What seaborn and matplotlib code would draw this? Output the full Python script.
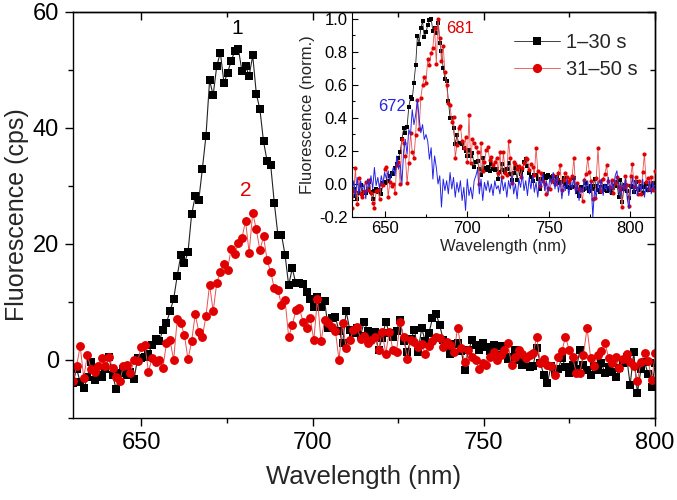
import numpy as np
import matplotlib
matplotlib.use('Agg')
import matplotlib.pyplot as plt
from matplotlib.ticker import MultipleLocator
import seaborn as sns

# wavelength grid of the spectrometer (nm), 1.05 nm steps starting at 630
wl_start = 630.0
wl_step = 1.05

# 1-30 s (cps)
black = [-4.0, -1.5, -3.8, -4.9, -3.0, -0.3, -3.4, -2.5, -2.9, -1.5,
         0.6, -2.5, -5.0, -2.2, -1.5, -2.6, -2.0, -3.2, 0.3, 0.3,
         0.5, 1.1, 2.6, 3.7, 3.2, 5.2, 6.4, 8.4, 10.5, 14.5,
         18.1, 16.7, 18.6, 25.1, 28.2, 27.6, 33.0, 38.7, 48.2, 45.7,
         50.7, 53.0, 47.8, 49.5, 51.6, 53.2, 53.7, 49.8, 50.7, 49.0,
         52.5, 45.9, 43.2, 37.7, 34.3, 33.6, 27.1, 21.6, 21.6, 18.1,
         12.9, 15.8, 13.2, 13.2, 13.1, 11.8, 10.6, 9.2, 10.9, 9.2,
         10.1, 5.5, 7.2, 7.4, 5.0, 2.9, 8.4, 5.2, 4.6, 5.5,
         4.2, 6.6, 5.0, 4.6, 4.8, 1.7, 3.8, 6.6, 4.6, 4.0,
         5.0, 6.9, 3.2, 1.4, 3.6, 5.2, 1.4, 5.5, 3.2, 4.6,
         7.2, 8.0, 6.0, 3.5, 2.4, 1.1, 2.8, 3.0, 1.6, -1.7,
         1.7, 3.4, 2.6, 1.8, 2.9, 2.2, 1.6, 2.6, 0.8, 2.4,
         1.2, 0.2, 0.6, 1.8, 0.0, -0.9, 0.6, -1.2, -1.0, 2.0,
         -0.5, -2.6, -3.9, -1.0, -2.0, -1.5, 0.4, -1.2, -2.3, -0.8,
         -1.6, 1.7, -0.8, -1.8, -2.6, -1.0, -1.8, -0.6, -2.2, -1.2,
         -2.0, -2.9, -1.4, -0.6, 0.6, -4.3, 1.4, -5.7, -1.6, -0.4,
         -2.4, -4.6, -0.6, -1.0, -2.5, 0.5, -1.5, -2.0, -0.5, -3.0,
         -1.0, 0.0, -2.0, -0.8, -1.8, 0.2, -1.2]

# 31-50 s (cps)
red = [-3.7, -1.1, 2.4, -3.1, 0.9, -1.5, -2.0, -1.1, 0.3, -1.0,
       0.6, -1.4, -2.9, -3.7, -1.1, -0.9, -2.3, 0.0, -0.2, 2.3,
       2.6, -2.0, 0.3, -0.3, 0.0, -1.4, 2.9, 3.4, 0.0, 7.0,
       6.3, 4.3, 0.1, 3.2, 7.9, 4.9, 4.0, 7.6, 13.0, 8.4,
       13.3, 15.2, 16.5, 15.6, 19.2, 18.3, 20.1, 21.0, 24.0, 18.5,
       25.4, 22.5, 18.9, 21.3, 17.2, 15.2, 12.4, 12.1, 9.5, 10.3,
       4.0, 6.0, 8.6, 8.9, 6.6, 5.5, 7.2, 3.4, 10.6, 3.2,
       6.9, 6.3, 5.7, 5.0, 0.0, 6.3, 2.0, 3.4, 5.2, 5.7,
       3.7, 4.2, 2.9, 3.4, 4.0, 1.7, 4.9, 1.1, 4.9, 1.7,
       1.4, 6.6, 4.0, 0.1, 3.4, 3.1, 2.3, 2.8, 1.1, 2.4,
       3.2, 4.0, 3.8, 2.2, 3.1, 2.6, 1.4, 5.6, 2.0, -0.3,
       1.7, 0.5, 0.0, -1.6, -0.6, -0.8, 0.5, 1.4, 0.0, 0.8,
       1.7, 2.9, -0.9, 0.6, 1.7, 1.0, 0.3, 0.8, 1.2, 4.0,
       -0.6, 0.2, -0.8, -1.0, -2.6, 0.6, 1.5, 4.0, 1.8, 0.5,
       -2.3, -2.2, 0.9, 5.5, 0.4, -1.1, 0.8, 1.5, 2.9, 0.4,
       -0.5, 0.6, -1.4, 0.2, 1.0, -0.4, -1.0, -3.6, -0.4, 1.2,
       -0.2, -3.4, 1.2, 3.0, -0.5, 1.0, -1.5, 0.5, -1.6, 1.8,
       4.6, 0.3, 0.9, -0.8, 1.0, -1.0, 2.0]

# reference spectrum in the inset (normalized)
blue = [-0.05, 0.02, -0.08, 0.04, -0.06, 0.02, -0.04, 0.0, -0.09, 0.03,
        -0.02, 0.05, -0.03, 0.10, -0.01, 0.04, -0.03, 0.05, 0.0, 0.07,
        0.03, 0.08, 0.02, 0.06, 0.10, 0.05, 0.17, 0.09, 0.12, 0.0,
        0.20, 0.27, 0.18, 0.33, 0.30, 0.45, 0.36, 0.42, 0.51, 0.40,
        0.31, 0.36, 0.27, 0.30, 0.26, 0.15, 0.22, 0.03, 0.17, 0.10,
        0.0, 0.05, -0.14, 0.03, -0.04, 0.02, -0.06, 0.07, -0.03, 0.04,
        -0.08, 0.01, -0.05, 0.02, -0.10, -0.02, -0.16, 0.03, -0.07, -0.02,
        -0.09, 0.02, 0.05, 0.09, -0.06, 0.03, -0.10, 0.01, -0.04, 0.02,
        -0.05, 0.0, -0.07, 0.02, -0.03, -0.01, -0.06, 0.04, -0.04, 0.01,
        -0.08, 0.02, -0.03, 0.05, -0.06, 0.0, -0.09, 0.03, -0.02, 0.06,
        -0.04, 0.02, -0.07, 0.04, -0.03, 0.05, -0.05, 0.01, -0.08, 0.03,
        -0.02, 0.06, -0.04, 0.02, -0.06, 0.04, 0.0, 0.07, -0.03, 0.05,
        -0.05, 0.02, -0.09, 0.0, -0.04, 0.03, -0.07, 0.01, -0.03, 0.04,
        -0.06, 0.0, -0.10, -0.02, -0.05, 0.03, -0.04, 0.02, -0.06, 0.01,
        -0.20, -0.03, -0.08, 0.02, -0.05, 0.03, -0.07, 0.0, -0.04, 0.04,
        -0.06, 0.02, -0.03, 0.05, 0.08, -0.02, -0.08, 0.01, -0.05, 0.03,
        -0.09, -0.15, -0.03, 0.04, -0.06, 0.02, -0.07, 0.0, -0.04, 0.03,
        -0.08, -0.01, -0.05, 0.02, -0.06, 0.01, -0.04]

labels = ['1\u201330 s', '31\u201350 s']

wl = np.round(wl_start + wl_step * np.arange(len(black)), 2)
black = np.array(black)
red = np.array(red)
black_norm = black / black.max()
red_norm = red / red.max()

sns.set_style('ticks')
plt.rcParams['font.family'] = ['Liberation Sans', 'DejaVu Sans']
plt.rcParams['axes.linewidth'] = 1.0
plt.rcParams['axes.edgecolor'] = 'black'
plt.rcParams['xtick.color'] = 'black'
plt.rcParams['ytick.color'] = 'black'

fig = plt.figure(figsize=(6.77, 5.0), dpi=100)
ax = fig.add_axes([0.1078, 0.164, 0.8597, 0.812])

RED = '#e00000'
RED_LINE = '#e85050'

sns.lineplot(x=wl, y=black, ax=ax, estimator=None, sort=False, color='#222222',
             linewidth=0.8, marker='s', markersize=5.4, markerfacecolor='black',
             markeredgecolor='black', markeredgewidth=0)
sns.lineplot(x=wl, y=red, ax=ax, estimator=None, sort=False, color=RED_LINE,
             linewidth=0.7, marker='o', markersize=6.4, markerfacecolor=RED,
             markeredgecolor=RED, markeredgewidth=0)

ax.set_xlim(630, 800)
ax.set_ylim(-10, 60)
ax.xaxis.set_major_locator(MultipleLocator(50))
ax.xaxis.set_minor_locator(MultipleLocator(25))
ax.yaxis.set_major_locator(MultipleLocator(20))
ax.yaxis.set_minor_locator(MultipleLocator(10))
ax.tick_params(which='major', direction='out', length=6, width=1, labelsize=17, pad=4)
ax.tick_params(which='minor', direction='out', length=3.5, width=1)
ax.set_xlabel('Wavelength (nm)', fontsize=18.5, labelpad=8)
ax.set_ylabel('Fluorescence (cps)', fontsize=18, labelpad=3)
for s in ax.spines.values():
    s.set_visible(True)
    s.set_color('black')
    s.set_linewidth(1.0)

# top / right ticks point inwards
top = ax.secondary_xaxis('top')
top.xaxis.set_major_locator(MultipleLocator(50))
top.xaxis.set_minor_locator(MultipleLocator(25))
top.tick_params(which='major', direction='in', length=6, width=1, labeltop=False)
top.tick_params(which='minor', direction='in', length=3.5, width=1)
right = ax.secondary_yaxis('right')
right.yaxis.set_major_locator(MultipleLocator(20))
right.yaxis.set_minor_locator(MultipleLocator(10))
right.tick_params(which='major', direction='in', length=6, width=1, labelright=False)
right.tick_params(which='minor', direction='in', length=3.5, width=1)

ax.text(677.9, 57.2, '1', fontsize=15, color='black', ha='center', va='center')
ax.text(680.6, 29.3, '2', fontsize=15, color=RED, ha='center', va='center')

# inset
axin = fig.add_axes([0.520, 0.566, 0.4476, 0.408])
axin.set_facecolor('none')
sns.lineplot(x=wl, y=black_norm, ax=axin, estimator=None, sort=False, color='#222222',
             linewidth=0.6, marker='s', markersize=2.6, markerfacecolor='black',
             markeredgecolor='black', markeredgewidth=0, label=labels[0])
sns.lineplot(x=wl, y=red_norm, ax=axin, estimator=None, sort=False, color=RED_LINE,
             linewidth=0.6, marker='o', markersize=3.0, markerfacecolor=RED,
             markeredgecolor=RED, markeredgewidth=0, label=labels[1])
sns.lineplot(x=wl, y=blue, ax=axin, estimator=None, sort=False, color='#2424e6',
             linewidth=0.7)

axin.set_xlim(630, 815)
axin.set_ylim(-0.2, 1.036)
axin.xaxis.set_major_locator(MultipleLocator(50))
axin.xaxis.set_minor_locator(MultipleLocator(25))
axin.yaxis.set_major_locator(MultipleLocator(0.2))
axin.yaxis.set_minor_locator(MultipleLocator(0.1))
axin.yaxis.set_major_formatter(lambda v, p: f'{v:.1f}')
axin.tick_params(which='major', direction='in', length=4, width=0.8, labelsize=12, pad=3)
axin.tick_params(which='minor', direction='in', length=2.5, width=0.8)
axin.spines['top'].set_visible(False)
axin.spines['right'].set_visible(False)
axin.spines['left'].set_linewidth(0.8)
axin.spines['bottom'].set_linewidth(0.8)
axin.set_xlabel('Wavelength (nm)', fontsize=12, labelpad=2)
axin.set_ylabel('Fluorescence (norm.)', fontsize=12, labelpad=3)

axin.text(654.4, 0.467, '672', fontsize=12, color='#2424e6', ha='center', va='center')
axin.text(695.9, 0.945, '681', fontsize=12, color=RED, ha='center', va='center')

handles, labs = axin.get_legend_handles_labels()
axin.legend(handles[:2], labs[:2], loc='upper left', bbox_to_anchor=(0.52, 0.92),
            frameon=False, fontsize=14.5, markerscale=2.2, handlelength=2.3,
            handletextpad=0.3, labelspacing=0.4, borderpad=0.2, borderaxespad=0)

fig.savefig('out.png', dpi=100)
